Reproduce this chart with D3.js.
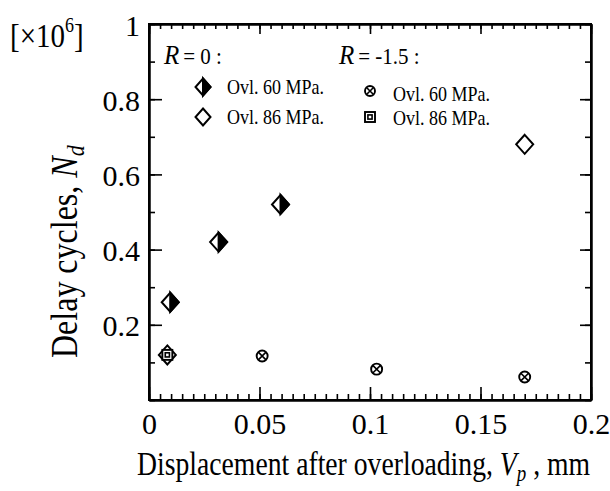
<!DOCTYPE html>
<meta charset="utf-8">
<body style="margin:0;background:#fff">
<svg width="610" height="491"></svg>
<script src="https://cdn.jsdelivr.net/npm/d3@7"></script>
<script>

// R = 0, overload 60 MPa (half filled diamonds)
var r0_60_x = [0.0096, 0.0315, 0.0595];
var r0_60_y = [0.26, 0.42, 0.52];
// R = 0, overload 86 MPa (open diamonds)
var r0_86_x = [0.0083, 0.170];
var r0_86_y = [0.12, 0.68];
// R = -1.5, overload 60 MPa (crossed circles)
var rm_60_x = [0.0512, 0.103, 0.170];
var rm_60_y = [0.117, 0.082, 0.061];
// R = -1.5, overload 86 MPa (squares)
var rm_86_x = [0.0083];
var rm_86_y = [0.12];

var xTicks = [0, 0.05, 0.1, 0.15, 0.2];
var xTickLabels = ["0", "0.05", "0.1", "0.15", "0.2"];
var yTicks = [0.2, 0.4, 0.6, 0.8, 1];
var yTickLabels = ["0.2", "0.4", "0.6", "0.8", "1"];

var FONT = "Liberation Serif, Times New Roman, serif";

var svg = d3.select("svg").attr("font-family", FONT);

var x = d3.scaleLinear().domain([0, 0.2]).range([149, 591]);
var y = d3.scaleLinear().domain([0, 1]).range([400, 24]);

var xMinor = d3.range(0, 0.2001, 0.005);
var yMinor = d3.range(0, 1.001, 0.1);

function styleAxis(g, w) {
  g.attr("font-family", FONT).attr("font-size", 30);
  g.selectAll("path").attr("stroke", "#000").attr("stroke-width", 2);
  g.selectAll("line").attr("stroke", "#000").attr("stroke-width", w || 1.6);
  g.selectAll("text").attr("fill", "#000");
}

// minor ticks
svg.append("g").attr("transform", "translate(0,400)")
    .call(d3.axisBottom(x).tickValues(xMinor).tickSize(-6).tickSizeOuter(0).tickFormat(""))
    .call(styleAxis);
svg.append("g").attr("transform", "translate(0,24)")
    .call(d3.axisTop(x).tickValues(xMinor).tickSize(-5).tickSizeOuter(0).tickFormat(""))
    .call(styleAxis);
svg.append("g").attr("transform", "translate(149,0)")
    .call(d3.axisLeft(y).tickValues(yMinor).tickSize(-6).tickSizeOuter(0).tickFormat(""))
    .call(styleAxis);
svg.append("g").attr("transform", "translate(591,0)")
    .call(d3.axisRight(y).tickValues(yMinor).tickSize(-6).tickSizeOuter(0).tickFormat(""))
    .call(styleAxis);

// major ticks
svg.append("g").attr("transform", "translate(0,400)")
    .call(d3.axisBottom(x).tickValues(xTicks).tickSize(-13).tickSizeOuter(0).tickPadding(13)
      .tickFormat(function(d, i) { return xTickLabels[i]; }))
    .call(styleAxis);
svg.append("g").attr("transform", "translate(0,24)")
    .call(d3.axisTop(x).tickValues(xTicks).tickSize(-10).tickSizeOuter(0).tickFormat(""))
    .call(styleAxis);
svg.append("g").attr("transform", "translate(149,0)")
    .call(d3.axisLeft(y).tickValues(yTicks).tickSize(-13).tickSizeOuter(0).tickPadding(9)
      .tickFormat(function(d, i) { return yTickLabels[i]; }))
    .call(styleAxis)
  .selectAll("text").attr("dy", "0.37em");
svg.append("g").attr("transform", "translate(591,0)")
    .call(d3.axisRight(y).tickValues(yTicks).tickSize(-11).tickSizeOuter(0).tickFormat(""))
    .call(styleAxis);

// frame
svg.append("rect")
    .attr("x", x(0)).attr("y", y(1))
    .attr("width", x(0.2) - x(0)).attr("height", y(0) - y(1))
    .attr("fill", "none").attr("stroke", "#000").attr("stroke-width", 2);

// markers
function diamond(g, w, h) {
  return g.append("path")
    .attr("d", "M0," + (-h) + "L" + w + ",0L0," + h + "L" + (-w) + ",0Z")
    .attr("fill", "#fff").attr("stroke", "#000").attr("stroke-width", 2);
}
function halfDiamond(g, w, h) {
  diamond(g, w, h);
  g.append("path")
    .attr("d", "M0," + (-h) + "L" + w + ",0L0," + h + "Z")
    .attr("fill", "#000").attr("stroke", "#000").attr("stroke-width", 2);
}
function crossCircle(g, r) {
  g.append("circle").attr("r", r)
    .attr("fill", "#fff").attr("stroke", "#000").attr("stroke-width", 1.9);
  var k = r * 0.7;
  g.append("path")
    .attr("d", "M" + (-k) + "," + (-k) + "L" + k + "," + k + "M" + k + "," + (-k) + "L" + (-k) + "," + k)
    .attr("stroke", "#000").attr("stroke-width", 1.6);
}
function square(g, s) {
  g.append("rect").attr("x", -s).attr("y", -s).attr("width", 2 * s).attr("height", 2 * s)
    .attr("fill", "#fff").attr("stroke", "#000").attr("stroke-width", 1.9);
  g.append("rect").attr("x", -s / 2.4).attr("y", -s / 2.4).attr("width", s / 1.2).attr("height", s / 1.2)
    .attr("fill", "none").attr("stroke", "#000").attr("stroke-width", 1.6);
}

function place(xs, ys, draw) {
  xs.forEach(function(v, i) {
    var g = svg.append("g").attr("transform", "translate(" + x(v) + "," + y(ys[i]) + ")");
    draw(g);
  });
}

place(r0_86_x, r0_86_y, function(g) { diamond(g, 8.5, 9.5); });
place(r0_60_x, r0_60_y, function(g) { halfDiamond(g, 8.5, 9.5); });
place(rm_60_x, rm_60_y, function(g) { crossCircle(g, 5.5); });
place(rm_86_x, rm_86_y, function(g) { square(g, 5); });

// legend
function rTitle(tx, ty, rest) {
  var t = svg.append("text").attr("transform", "translate(" + tx + "," + ty + ") scale(1,1.13)");
  t.append("tspan").attr("font-style", "italic").attr("font-size", "25px").text("R");
  t.append("tspan").attr("font-size", "21px").attr("dx", 4).text(rest);
}
rTitle(164, 64, "= 0 :");
rTitle(339, 64, "= -1.5 :");

function legendText(tx, ty, s) {
  svg.append("text").attr("transform", "translate(" + tx + "," + ty + ") scale(1,1.17)")
    .attr("font-size", "18px").text(s);
}
var lg;
lg = svg.append("g").attr("transform", "translate(203,87)"); halfDiamond(lg, 7.5, 8.5);
legendText(227, 94, "Ovl. 60 MPa.");
lg = svg.append("g").attr("transform", "translate(203,117)"); diamond(lg, 7.5, 8.5);
legendText(227, 124, "Ovl. 86 MPa.");
lg = svg.append("g").attr("transform", "translate(370,91)"); crossCircle(lg, 5);
legendText(393, 101, "Ovl. 60 MPa.");
lg = svg.append("g").attr("transform", "translate(370,117)"); square(lg, 5);
legendText(393, 125, "Ovl. 86 MPa.");

// axis titles
var xt = svg.append("text").attr("transform", "translate(137,475) scale(1,1.2)").attr("font-size", "27.7px");
xt.append("tspan").text("Displacement after overloading, ");
xt.append("tspan").attr("font-style", "italic").text("V");
xt.append("tspan").attr("font-style", "italic").attr("font-size", "19px").attr("dy", 5).text("p");
xt.append("tspan").attr("dy", -5).text("  , mm");

var yt = svg.append("text").attr("transform", "translate(77,358) rotate(-90) scale(1,1.17)")
    .attr("font-size", "32px");
yt.append("tspan").text("Delay cycles,  ");
yt.append("tspan").attr("font-style", "italic").text("N");
yt.append("tspan").attr("font-style", "italic").attr("font-size", "22px").attr("dy", 6).text("d");

var mt = svg.append("text").attr("transform", "translate(10,47) scale(1,1.17)").attr("font-size", "29px");
mt.append("tspan").text("[\u00d710");
mt.append("tspan").attr("font-size", "18px").attr("dy", -13).text("6");
mt.append("tspan").attr("dy", 13).text("]");
</script>
</body>
